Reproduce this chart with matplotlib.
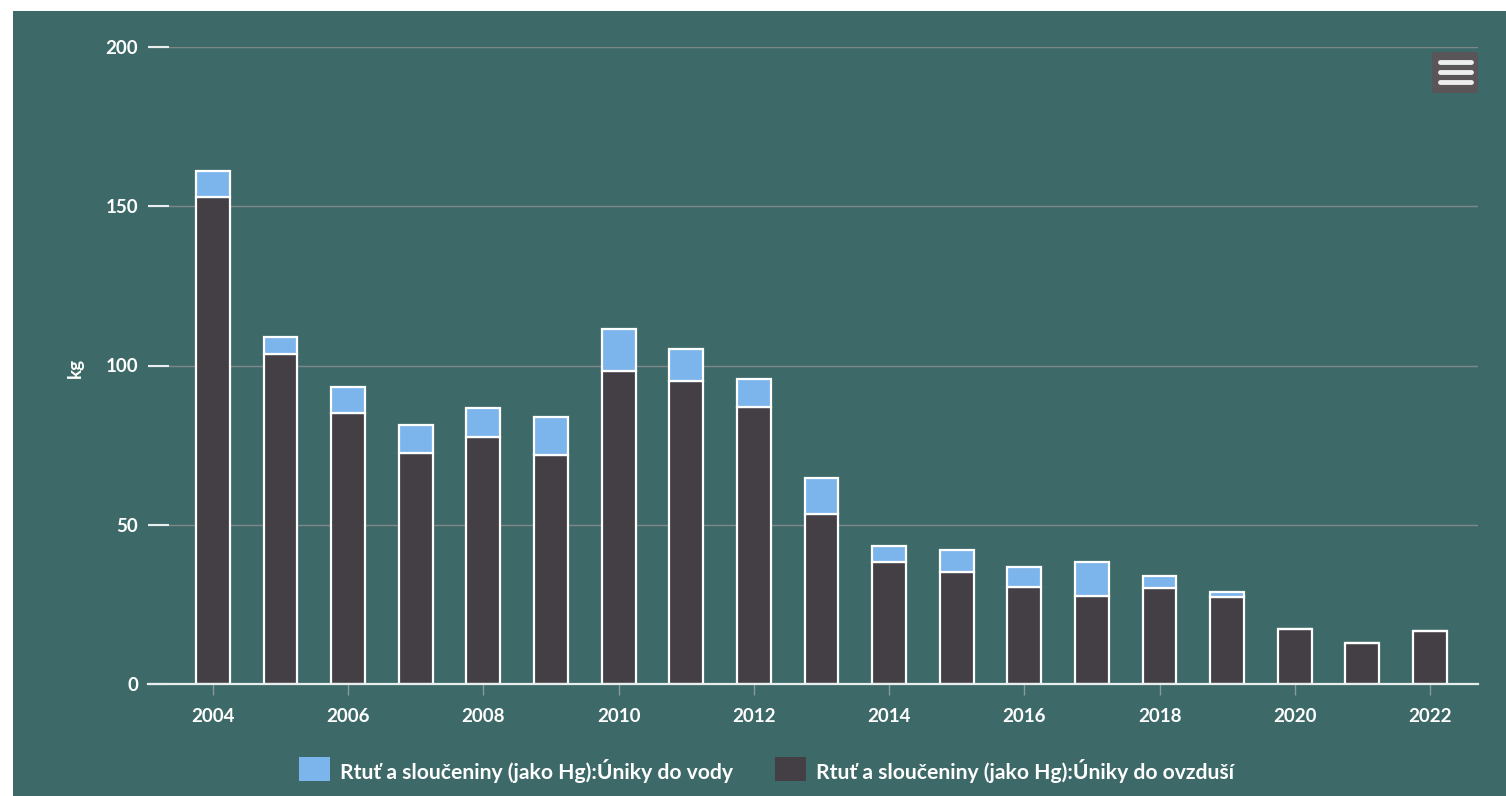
import matplotlib.pyplot as plt
from matplotlib.patches import Rectangle, FancyBboxPatch
import numpy as np

# roky a emise rtuti (kg)
roky = list(range(2004, 2023))
ovzdusi = [153.0, 103.6, 85.1, 72.5, 77.6, 71.9, 98.3, 95.1, 87.0, 53.4,
           38.3, 35.2, 30.5, 27.6, 30.1, 27.3, 17.3, 12.9, 16.6]
voda = [8.1, 5.3, 8.1, 8.8, 9.1, 11.9, 13.2, 10.1, 8.8, 11.3,
        5.0, 6.9, 6.2, 10.7, 3.8, 1.6, 0.0, 0.0, 0.0]

legenda_voda = 'Rtuť a sloučeniny (jako Hg):Úniky do vody'
legenda_ovzdusi = 'Rtuť a sloučeniny (jako Hg):Úniky do ovzduší'

pozadi = '#3d6a68'
modra = '#7cb5ec'
tmava = '#433f45'
W, H = 1506, 796

plt.rcParams['font.family'] = ['Lato', 'DejaVu Sans']

fig = plt.figure(figsize=(W / 100, H / 100), dpi=100, facecolor='white')
# teal panel (a thin white border is left at top and left)
fig.patches.append(Rectangle((13 / W, 0), 1 - 13 / W, 1 - 11 / H,
                             transform=fig.transFigure, facecolor=pozadi,
                             edgecolor='none', zorder=-5))

ax = fig.add_axes([148 / W, (H - 684) / H, (1478 - 148) / W, (684 - 47) / H])
ax.set_facecolor('none')
ax.set_zorder(2)

x = np.array(roky)
ax.bar(x, ovzdusi, width=0.5, color=tmava, edgecolor='white', linewidth=1.6, zorder=3)
ax.bar(x, voda, bottom=ovzdusi, width=0.5, color=modra, edgecolor='white',
       linewidth=1.6, zorder=3)

ax.set_xlim(2003.04, 2022.71)
ax.set_ylim(0, 200)
ax.set_yticks([0, 50, 100, 150, 200])
ax.set_xticks(range(2004, 2023, 2))

for y in [50, 100, 150, 200]:
    ax.axhline(y, color='#808787', linewidth=1.0, zorder=1)

for s in ['top', 'right', 'left']:
    ax.spines[s].set_visible(False)
ax.spines['bottom'].set_color('#e8eeee')
ax.spines['bottom'].set_linewidth(1.6)
ax.spines['bottom'].set_zorder(4)

ax.tick_params(axis='y', direction='in', length=15, width=1.5, color='#e8eeee',
               pad=7, labelsize=13.5, labelcolor='white')
ax.tick_params(axis='x', direction='out', length=8, width=1.0, color='#8a9a9a',
               pad=9, labelsize=13.5, labelcolor='white')
for lab in ax.get_xticklabels() + ax.get_yticklabels():
    lab.set_fontweight('bold')

fig.text(75 / W, 1 - 368 / H, 'kg', rotation=90, color='white', fontsize=13.5,
         fontweight='bold', ha='center', va='center')

# legenda
for x0, barva, text in [(299, modra, legenda_voda), (775, tmava, legenda_ovzdusi)]:
    fig.patches.append(Rectangle((x0 / W, 1 - 781 / H), 31 / W, 24 / H,
                                 transform=fig.transFigure, facecolor=barva,
                                 edgecolor='none', zorder=2))
    fig.text((x0 + 41) / W, 1 - 771 / H, text, color='white', fontsize=15.2,
             fontweight='bold', ha='left', va='center')

# tlacitko menu
fig.patches.append(FancyBboxPatch((1432 / W, 1 - 93 / H), 46 / W, 41 / H,
                                  boxstyle='round,pad=0,rounding_size=0.002',
                                  transform=fig.transFigure, facecolor='#5a5558',
                                  edgecolor='none', zorder=3))
for yy in [62, 72, 82]:
    fig.add_artist(plt.Line2D([1440 / W, 1471 / W], [1 - yy / H, 1 - yy / H],
                              transform=fig.transFigure, color='#eeeeee',
                              linewidth=3.5, solid_capstyle='round', zorder=4))

fig.savefig('out.png', dpi=100, facecolor=fig.get_facecolor())
